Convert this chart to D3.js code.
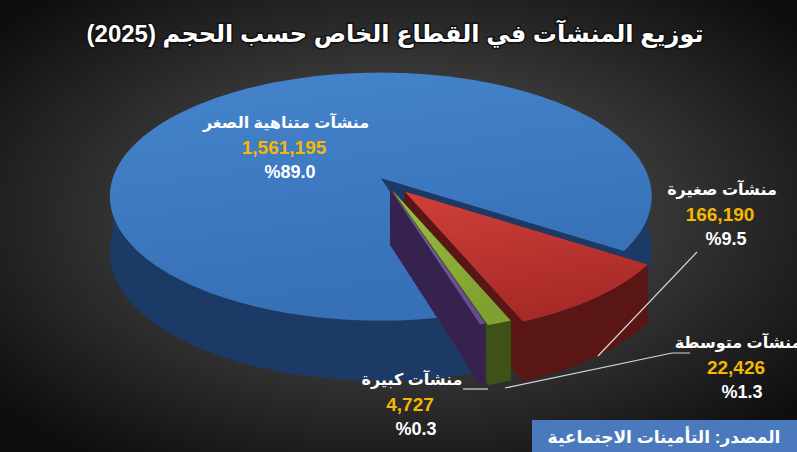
<!DOCTYPE html>
<html><head><meta charset="utf-8">
<script src="https://cdn.jsdelivr.net/npm/d3@7"></script>
<style>body{margin:0;background:#000}svg{display:block}</style>
</head><body>
<script>
const categories = ["منشآت صغيرة","منشآت متوسطة","منشآت كبيرة","منشآت متناهية الصغر"];
const counts = [166190, 22426, 4727, 1561195];
const percents = [9.5, 1.3, 0.3, 89.0];
const colors = [["#d0403a","#a82a27","#5a1614"],["#9cc044","#7fa032","#3e5217"],["#8a6ab8","#6a4a93","#35224f"],["#4584cc","#3670b6","#1c3a66"]];
const explodeAmt = [0.12, 0.09, 0.075, 0.02];
const title = "توزيع المنشآت في القطاع الخاص حسب الحجم (2025)";
const source = "المصدر: التأمينات الاجتماعية";

const W=797,H=452;
const svg=d3.select("body").append("svg").attr("width",W).attr("height",H);
const defs=svg.append("defs");
const bg=defs.append("radialGradient").attr("id","bg").attr("cx","50%").attr("cy","48%").attr("r","65%");
bg.append("stop").attr("offset","0").attr("stop-color","#5e5e5e");
bg.append("stop").attr("offset","1").attr("stop-color","#0e0e0e");
svg.append("rect").attr("width",W).attr("height",H).attr("fill","url(#bg)");

const cx=384,cy=180,rx=268,ry=124,k=0.15,depth=56;
const rad=d3.scaleLinear().domain([0,360]).range([0,2*Math.PI]);
const pie=d3.pie().sort(null).value(d=>d).startAngle(rad(33)).endAngle(rad(393));
const arcs=pie(percents);
function P(u,t,ox,oy,h){const s=Math.sin(t),m=1+k*u*s;return [ox+cx+rx*u*Math.cos(t)*m, oy+cy+ry*u*s*m+h*(1+k*s*u*0.5)];}

colors.forEach((c,i)=>{
  const g=defs.append("linearGradient").attr("id","top"+i).attr("x1","0").attr("y1","0").attr("x2","0.3").attr("y2","1");
  g.append("stop").attr("offset","0").attr("stop-color",c[0]);
  g.append("stop").attr("offset","1").attr("stop-color",c[1]);
});
const line=d3.line();
const order=[3,0,1,2];
order.forEach(i=>{
  const a=arcs[i],t0=a.startAngle,t1=a.endAngle,tm=(t0+t1)/2,e=explodeAmt[i];
  const ox=rx*e*Math.cos(tm), oy=ry*e*Math.sin(tm);
  const g=svg.append("g");
  const ap=P(0,0,ox,oy,0), apb=P(0,0,ox,oy,depth);
  [t0,t1].forEach(t=>{
    g.append("path").attr("d",line([ap,P(1,t,ox,oy,0),P(1,t,ox,oy,depth),apb])+"Z").attr("fill",colors[i][2]);
  });
  const n=80, segs=[];
  for(let base=0;base<=4*Math.PI;base+=2*Math.PI){
    const lo=Math.max(t0,base), hi=Math.min(t1,base+Math.PI);
    if(hi>lo) segs.push([lo,hi]);
  }
  segs.forEach(([lo,hi])=>{
    const pts=[];
    for(let j=0;j<=n;j++){pts.push(P(1,lo+(hi-lo)*j/n,ox,oy,0));}
    for(let j=n;j>=0;j--){pts.push(P(1,lo+(hi-lo)*j/n,ox,oy,depth));}
    g.append("path").attr("d",line(pts)+"Z").attr("fill",colors[i][2]);
  });
  const tp=[ap];
  for(let j=0;j<=200;j++) tp.push(P(1,t0+(t1-t0)*j/200,ox,oy,0));
  g.append("path").attr("d",line(tp)+"Z").attr("fill","url(#top"+i+")");
});

const F="Liberation Sans, DejaVu Sans, sans-serif";
svg.append("text").attr("x",395).attr("y",42).attr("text-anchor","middle").attr("direction","rtl")
 .attr("font-family",F).attr("font-weight","bold").attr("font-size",24).attr("fill","#fff")
 .attr("stroke","#111").attr("stroke-width",3).attr("paint-order","stroke").text(title);

const lab=[[722,195],[738,348],[412,385],[286,128]];
lab.forEach((p,i)=>{
  const g=svg.append("g").attr("font-family",F).attr("font-weight","bold").attr("text-anchor","middle");
  g.append("text").attr("x",p[0]).attr("y",p[1]).attr("direction","rtl").attr("font-size",16).attr("fill","#fff").text(categories[i]);
  g.append("text").attr("x",p[0]-2).attr("y",p[1]+26).attr("font-size",19).attr("fill","#f5b800").text(d3.format(",")(counts[i]));
  g.append("text").attr("x",p[0]+4).attr("y",p[1]+50).attr("font-size",18).attr("fill","#fff").text("%"+d3.format(".1f")(percents[i]));
});
const leaders=[[[598,356],[697,252]],[[505,388],[672,353],[690,353]],[[488,389],[463,389]]];
leaders.forEach(l=>svg.append("path").attr("d",line(l)).attr("fill","none").attr("stroke","#d8d8d8").attr("stroke-width",1.2));

svg.append("rect").attr("x",532).attr("y",420).attr("width",265).attr("height",32).attr("fill","#4a79bd");
svg.append("text").attr("x",664).attr("y",443).attr("text-anchor","middle").attr("direction","rtl")
 .attr("font-family",F).attr("font-weight","bold").attr("font-size",17).attr("fill","#fff").text(source);
</script>
</body></html>
